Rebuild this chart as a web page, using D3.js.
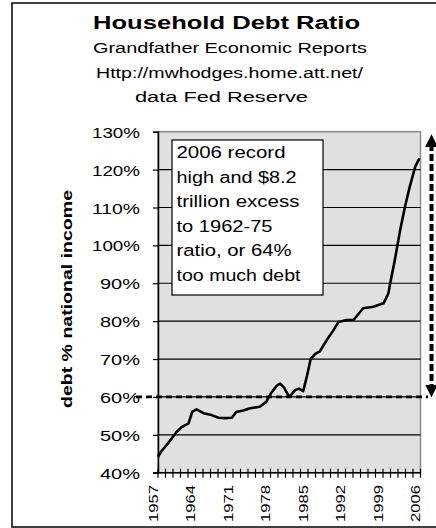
<!DOCTYPE html>
<html>
<head>
<meta charset="utf-8">
<script src="https://cdn.jsdelivr.net/npm/d3@7/dist/d3.min.js"></script>
<style>
  html, body { margin: 0; padding: 0; background: #fff; }
  svg { display: block; font-family: "Liberation Sans", Arial, sans-serif; }
</style>
</head>
<body>
<svg id="chart" width="436" height="528"></svg>
<script>
// ---- data ----
const years = [1957.0, 1957.6, 1958.9, 1960.5, 1961.4, 1962.7, 1963.4, 1964.2, 1965.5, 1967.0, 1968.3, 1969.5, 1970.8, 1971.6, 1972.9, 1974.2, 1976.0, 1977.2, 1978.1, 1979.2, 1979.8, 1980.5, 1981.3, 1981.6, 1982.6, 1983.3, 1984.1, 1984.8, 1985.5, 1986.3, 1987.2, 1988.5, 1989.7, 1990.7, 1992.2, 1993.5, 1995.3, 1997.2, 1999.1, 2000.0, 2000.4, 2001.2, 2002.2, 2003.1, 2004.0, 2005.0, 2005.8];
const debtRatio = [44.2, 45.6, 47.8, 50.8, 52.0, 53.0, 56.1, 56.7, 55.7, 55.2, 54.5, 54.4, 54.5, 56.0, 56.4, 57.0, 57.4, 58.7, 61.0, 63.0, 63.5, 62.5, 60.5, 60.1, 61.8, 62.2, 61.5, 65.5, 70.0, 71.3, 72.0, 75.0, 77.5, 79.8, 80.3, 80.3, 83.4, 83.8, 84.7, 87.3, 90.4, 96.1, 104.0, 110.2, 115.5, 120.7, 123.0];
const yTicks = [40, 50, 60, 70, 80, 90, 100, 110, 120, 130];
const yearLabels = [1957, 1964, 1971, 1978, 1985, 1992, 1999, 2006];
const titleLines = ["Household Debt Ratio", "Grandfather Economic Reports", "Http://mwhodges.home.att.net/", "data Fed Reserve"];
const yAxisTitle = "debt % national income";
const noteLines = ["2006 record", "high and $8.2", "trillion excess", "to 1962-75", "ratio, or 64%", "too much debt"];
const baselineRatio = 60;      // 1962-75 ratio (dashed line)
const arrowTopRatio = 129.5;   // top of the dashed arrow

// ---- layout ----
const svg = d3.select("#chart");
const plot = { left: 158, right: 420.5, top: 131.7, bottom: 472.7 };
const x = d3.scaleLinear().domain([1957, 2006]).range([plot.left, plot.right]);
const y = d3.scaleLinear().domain([40, 130]).range([plot.bottom, plot.top]);

// outer frame
svg.append("rect").attr("x", 12).attr("y", 3).attr("width", 440).attr("height", 524)
  .attr("fill", "#fff").attr("stroke", "#000").attr("stroke-width", 1.5);

// titles
const titleSpecs = [
  { t: titleLines[0], cx: 226.5, y: 28.5, size: 18, w: 267, bold: true },
  { t: titleLines[1], cx: 230, y: 53, size: 14, w: 274 },
  { t: titleLines[2], cx: 229.5, y: 78, size: 14, w: 267 },
  { t: titleLines[3], cx: 221.5, y: 102, size: 14, w: 173 }
];
titleSpecs.forEach(s => {
  svg.append("text").attr("x", s.cx).attr("y", s.y).attr("text-anchor", "middle")
    .attr("font-size", s.size).attr("font-weight", s.bold ? "bold" : "normal")
    .attr("textLength", s.w).attr("lengthAdjust", "spacingAndGlyphs")
    .attr("fill", "#000").text(s.t);
});

// plot background
svg.append("rect").attr("x", plot.left).attr("y", plot.top)
  .attr("width", plot.right - plot.left).attr("height", plot.bottom - plot.top)
  .attr("fill", "#e0e0e0").attr("stroke", "#8c8c8c").attr("stroke-width", 1.5);

// gridlines
svg.append("g").selectAll("line").data(yTicks.filter(d => d > 40 && d < 130)).join("line")
  .attr("x1", plot.left).attr("x2", plot.right)
  .attr("y1", d => y(d)).attr("y2", d => y(d))
  .attr("stroke", "#000").attr("stroke-width", 1.2);

// y axis
const yAxis = d3.axisLeft(y).tickValues(yTicks).tickSize(5).tickFormat(d => d + "%");
const gy = svg.append("g").attr("transform", `translate(${plot.left},0)`).call(yAxis);
gy.select(".domain").attr("stroke", "#000").attr("stroke-width", 1.5);
gy.selectAll(".tick line").attr("stroke", "#000").attr("stroke-width", 1.2);
gy.selectAll(".tick text").attr("font-size", 15.5).attr("fill", "#000")
  .attr("x", -18).attr("dy", "0.36em").attr("font-family", "Liberation Sans, Arial, sans-serif")
  .attr("textLength", d => String(d).length >= 3 ? 48 : 40).attr("lengthAdjust", "spacingAndGlyphs");

// x axis: cross ticks every 1.4 years, labels every 7 years
const tickYears = d3.range(0, 36).map(i => 1957 + i * 1.4);
const gx = svg.append("g");
gx.append("line").attr("x1", plot.left - 5).attr("x2", plot.right)
  .attr("y1", plot.bottom).attr("y2", plot.bottom).attr("stroke", "#000").attr("stroke-width", 1.5);
gx.selectAll("line.tk").data(tickYears).join("line").attr("class", "tk")
  .attr("x1", d => x(d)).attr("x2", d => x(d))
  .attr("y1", plot.bottom - 4).attr("y2", plot.bottom + 5)
  .attr("stroke", "#000").attr("stroke-width", 1.2);
gx.selectAll("text").data(yearLabels).join("text")
  .attr("transform", d => `translate(${x(d) - 0.5},485) rotate(-90)`)
  .attr("text-anchor", "end").attr("font-size", 13)
  .attr("textLength", 37).attr("lengthAdjust", "spacingAndGlyphs")
  .attr("fill", "#000").text(d => d);

// y axis title
svg.append("text").attr("transform", "translate(72,299) rotate(-90)")
  .attr("text-anchor", "middle").attr("font-size", 15).attr("font-weight", "bold")
  .attr("textLength", 218).attr("lengthAdjust", "spacingAndGlyphs")
  .attr("fill", "#000").text(yAxisTitle);

// dashed 60% line
svg.append("line").attr("x1", 136).attr("x2", 428)
  .attr("y1", y(baselineRatio)).attr("y2", y(baselineRatio))
  .attr("stroke", "#000").attr("stroke-width", 2.6).attr("stroke-dasharray", "6,4");

// data line
const line = d3.line().x((d, i) => x(years[i])).y(d => y(d));
svg.append("path").datum(debtRatio).attr("d", line)
  .attr("fill", "none").attr("stroke", "#000").attr("stroke-width", 2.6)
  .attr("stroke-linejoin", "round");

// dashed vertical arrow
const defs = svg.append("defs");
defs.append("marker").attr("id", "ah").attr("viewBox", "0 0 10 10").attr("refX", 5).attr("refY", 5)
  .attr("markerWidth", 3.2).attr("markerHeight", 3.2).attr("orient", "auto-start-reverse")
  .attr("markerUnits", "strokeWidth")
  .append("path").attr("d", "M0,0 L10,5 L0,10 Z").attr("fill", "#000");
const ax = 431.5;
svg.append("line").attr("x1", ax).attr("x2", ax)
  .attr("y1", y(baselineRatio) - 6).attr("y2", y(arrowTopRatio) + 7)
  .attr("stroke", "#000").attr("stroke-width", 4).attr("stroke-dasharray", "7,3");
svg.append("line").attr("x1", ax).attr("x2", ax)
  .attr("y1", y(baselineRatio) - 6).attr("y2", y(arrowTopRatio) + 7)
  .attr("stroke", "none").attr("stroke-width", 4)
  .attr("marker-start", "url(#ah)").attr("marker-end", "url(#ah)");

// annotation box
svg.append("rect").attr("x", 172).attr("y", 140).attr("width", 151).attr("height", 155)
  .attr("fill", "#fff").attr("stroke", "#000").attr("stroke-width", 1.2);
const noteWidths = [109, 120, 123, 96, 115, 124];
noteLines.forEach((t, i) => {
  svg.append("text").attr("x", 176.5).attr("y", 158.3 + i * 24.5)
    .attr("font-size", 16).attr("textLength", noteWidths[i]).attr("lengthAdjust", "spacingAndGlyphs")
    .attr("fill", "#000").text(t);
});
</script>
</body>
</html>
